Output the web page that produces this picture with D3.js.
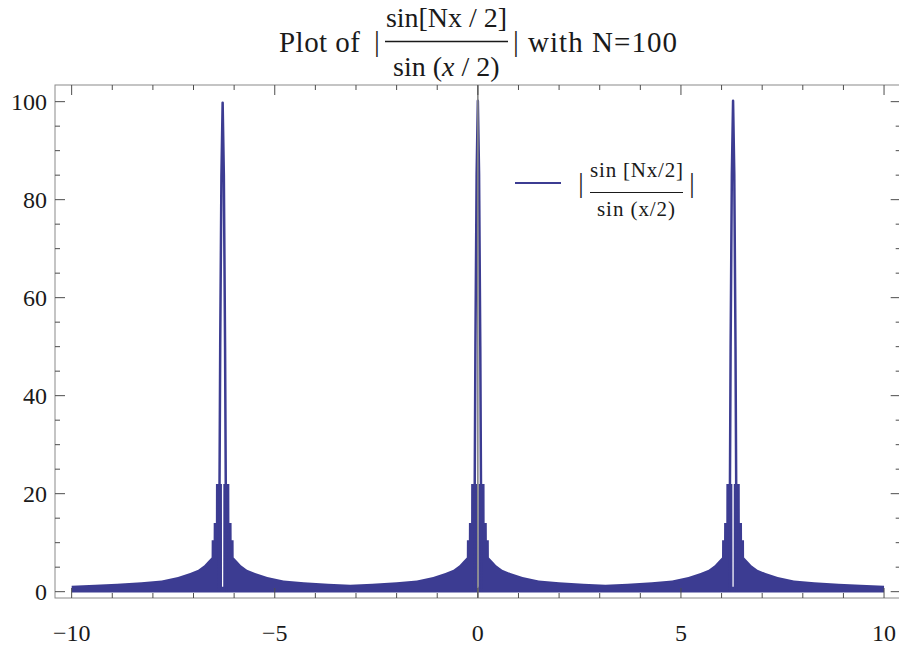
<!DOCTYPE html>
<html lang="en">
<head>
<meta charset="UTF-8">
<title>Plot of |sin[Nx/2]/sin(x/2)| with N=100</title>
<script src="https://d3js.org/d3.v7.min.js"></script>
<style>
  body { margin: 0; background: #fff; }
  svg text { font-family: "Liberation Serif", "Times New Roman", serif; fill: #1a1a1a; }
</style>
</head>
<body>
<svg id="chart" width="899" height="651"></svg>
<script>
    // axis ticks
    const xMajorTicks = [-10, -5, 0, 5, 10];
    const xMinorTicks = d3.range(-10, 11, 1);
    const yMajorTicks = [0, 20, 40, 60, 80, 100];
    const yMinorTicks = d3.range(0, 101, 5);

    // the three main peaks (x position, height)
    const peakCenters = [-6.283, 0, 6.283];
    const peakHeights = [99.8, 100.2, 100.2];

    // outline of one spike: offset from peak centre and fraction of peak height
    const spikeDx = [-0.09, -0.06, -0.03, 0, 0.03, 0.06, 0.09];
    const spikeFrac = [0, 0.5, 0.85, 1, 0.85, 0.5, 0];

    // dense oscillation band: upper edge vs. distance from nearest peak
    const bandDx  = [0.015, 0.017, 0.165, 0.167, 0.22, 0.222, 0.27, 0.272, 0.36, 0.45, 0.6, 0.8, 1.1, 1.5, 2.0, 2.6, 3.1416, 3.717];
    const bandTop = [1.0,   22,    22,    14,    14,   10.5,  10.5, 7.0,   6.2,  5.4,  4.5, 3.8, 3.0, 2.3, 1.9, 1.6, 1.4,    1.2];
    const bandBottom = -0.15;

    const lineColor = "#3c3c92";

    const svg = d3.select("#chart");
    const x = d3.scaleLinear().domain([-10.41, 10.41]).range([55, 900.7]);
    const y = d3.scaleLinear().domain([-1.29, 103.4]).range([598, 85]);

    const [x0, x1] = x.range();
    const [yb, yt] = y.range();

    // band points built from the profile, mirrored around each peak
    const bandPts = [];
    peakCenters.forEach((c, i) => {
        const lo = i === 0 ? -10 : (peakCenters[i - 1] + c) / 2;
        const hi = i === peakCenters.length - 1 ? 10 : (peakCenters[i + 1] + c) / 2;
        bandDx.forEach((d, j) => {
            if (c - d >= lo - 0.01) bandPts.push({x: Math.max(-10, c - d), top: bandTop[j]});
            if (c + d <= hi + 0.01) bandPts.push({x: Math.min(10, c + d), top: bandTop[j]});
        });
    });
    bandPts.sort((a, b) => a.x - b.x);

    const area = d3.area()
        .x(d => x(d.x))
        .y0(y(bandBottom))
        .y1(d => y(d.top));

    svg.append("path")
        .datum(bandPts)
        .attr("fill", lineColor)
        .attr("d", area);

    // spikes
    const line = d3.line().x(d => x(d.x)).y(d => y(d.y));
    peakCenters.forEach((c, i) => {
        const pts = spikeDx.map((d, j) => ({x: c + d, y: Math.max(bandBottom, spikeFrac[j] * peakHeights[i])}));
        svg.append("path")
            .datum(pts)
            .attr("fill", "none")
            .attr("stroke", lineColor)
            .attr("stroke-width", 2.5)
            .attr("stroke-linejoin", "round")
            .attr("d", line);
    });

    // vertical axis through x = 0
    svg.append("line")
        .attr("x1", x(0)).attr("x2", x(0))
        .attr("y1", yt).attr("y2", yb)
        .attr("stroke", "#858585")
        .attr("stroke-width", 1.6);

    // frame
    svg.append("rect")
        .attr("x", x0).attr("y", yt)
        .attr("width", x1 - x0).attr("height", yb - yt)
        .attr("fill", "none")
        .attr("stroke", "#8a8a8a")
        .attr("stroke-width", 1);

    // ticks on all four sides (inward)
    const tickColor = "#4d4d4d";
    const ticks = svg.append("g").attr("stroke", tickColor).attr("stroke-width", 1);
    xMinorTicks.forEach(t => {
        const len = xMajorTicks.includes(t) ? 10 : 5;
        ticks.append("line").attr("x1", x(t)).attr("x2", x(t)).attr("y1", yb).attr("y2", yb - len);
        ticks.append("line").attr("x1", x(t)).attr("x2", x(t)).attr("y1", yt).attr("y2", yt + len);
    });
    yMinorTicks.forEach(t => {
        const len = yMajorTicks.includes(t) ? 10 : 5;
        ticks.append("line").attr("x1", x0).attr("x2", x0 + len).attr("y1", y(t)).attr("y2", y(t));
        ticks.append("line").attr("x1", x1).attr("x2", x1 - len).attr("y1", y(t)).attr("y2", y(t));
    });

    // tick labels
    svg.append("g").selectAll("text")
        .data(xMajorTicks).join("text")
        .attr("x", d => x(d))
        .attr("y", 641)
        .attr("text-anchor", "middle")
        .attr("font-size", 24)
        .text(d => d < 0 ? "\u2212" + Math.abs(d) : d);

    svg.append("g").selectAll("text")
        .data(yMajorTicks).join("text")
        .attr("x", 47)
        .attr("y", d => y(d) + 8)
        .attr("text-anchor", "end")
        .attr("font-size", 24)
        .text(d => d);

    // title
    const title = svg.append("g").attr("font-size", 29);
    title.append("text").attr("x", 279).attr("y", 52).attr("textLength", 81).text("Plot of");
    title.append("text").attr("x", 377).attr("y", 51).attr("text-anchor", "middle").text("|");
    title.append("text").attr("x", 386).attr("y", 27).attr("font-size", 28).attr("textLength", 121).text("sin[Nx / 2]");
    title.append("line").attr("x1", 385).attr("x2", 508).attr("y1", 41.5).attr("y2", 41.5)
        .attr("stroke", "#1a1a1a").attr("stroke-width", 1.5);
    const den = title.append("text").attr("x", 393).attr("y", 76).attr("font-size", 28);
    den.append("tspan").text("sin (");
    den.append("tspan").attr("font-style", "italic").text("x");
    den.append("tspan").text(" / 2)");
    title.append("text").attr("x", 516).attr("y", 51).attr("text-anchor", "middle").text("|");
    title.append("text").attr("x", 528).attr("y", 52).attr("textLength", 149).text("with N=100");

    // legend
    const legend = svg.append("g");
    legend.append("line")
        .attr("x1", 515).attr("x2", 561).attr("y1", 183).attr("y2", 183)
        .attr("stroke", lineColor).attr("stroke-width", 2);
    legend.append("text").attr("x", 581).attr("y", 192).attr("font-size", 27).attr("text-anchor", "middle").text("|");
    legend.append("text").attr("x", 590).attr("y", 177).attr("font-size", 21).attr("textLength", 93).text("sin [Nx/2]");
    legend.append("line").attr("x1", 590).attr("x2", 683).attr("y1", 192.5).attr("y2", 192.5)
        .attr("stroke", "#1a1a1a").attr("stroke-width", 1);
    legend.append("text").attr("x", 597).attr("y", 216).attr("font-size", 21).attr("textLength", 78).text("sin (x/2)");
    legend.append("text").attr("x", 692).attr("y", 192).attr("font-size", 27).attr("text-anchor", "middle").text("|");
</script>
</body>
</html>
